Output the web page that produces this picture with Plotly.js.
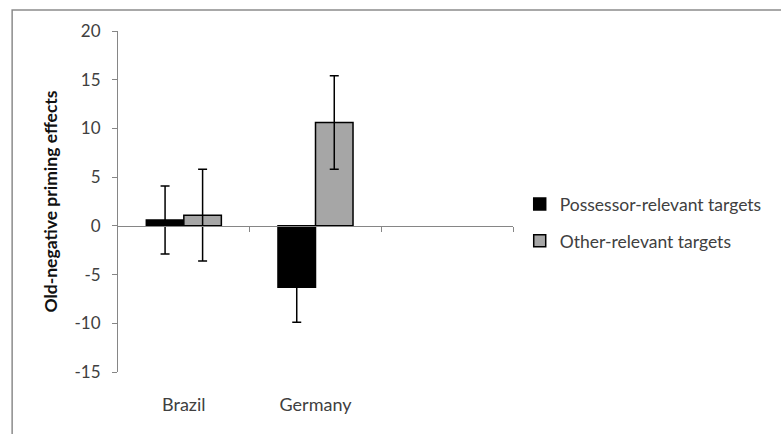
<!DOCTYPE html>
<html>
<head>
<meta charset="utf-8">
<script src="https://cdn.plot.ly/plotly-3.0.1.min.js"></script>
<style>
  html, body { margin: 0; padding: 0; background: #fff; }
  #chart { width: 781px; height: 434px; }
</style>
</head>
<body>
<div id="chart"></div>
<script>
// Country groups; the third slot is an empty category, as on the original axis
const categories = ['Brazil', 'Germany', ''];
const countries = ['Brazil', 'Germany'];

// Old-negative priming effects (means) and error bar half-lengths
const possessorValues = [0.6, -6.3];
const possessorErrors = [3.5, 3.6];
const otherValues = [1.1, 10.6];
const otherErrors = [4.7, 4.8];

// Value axis ticks, written with a plain hyphen for negatives
const yTicks = [-15, -10, -5, 0, 5, 10, 15, 20];
const yTickLabels = ['-15', '-10', '-5', '0', '5', '10', '15', '20'];

// Tick marks at the category boundaries along the zero line
const boundaryTicks = [0.5, 1.5, 2.5];

const axisGray = '#868686';
const textColor = '#404040';
const font = 'Lato, "Open Sans", sans-serif';
const barWidth = 0.285;

const traces = [
  {
    type: 'bar',
    name: 'Possessor-relevant targets',
    x: countries,
    y: possessorValues,
    xaxis: 'x',
    width: barWidth,
    offset: -barWidth,
    legendgroup: 'a',
    marker: { color: '#000000', line: { color: '#000000', width: 1.5 } },
    error_y: { type: 'data', array: possessorErrors, visible: true,
               color: '#000000', thickness: 1.5, width: 4.5 }
  },
  {
    type: 'bar',
    name: 'Other-relevant targets',
    x: countries,
    y: otherValues,
    xaxis: 'x2',
    width: barWidth,
    offset: 0,
    legendgroup: 'b',
    marker: { color: '#a6a6a6', line: { color: '#000000', width: 1.5 } },
    error_y: { type: 'data', array: otherErrors, visible: true,
               color: '#000000', thickness: 1.5, width: 4.5 }
  }
];

const layout = {
  width: 781,
  height: 434,
  margin: { l: 118, r: 268, t: 31, b: 62, pad: 0 },
  paper_bgcolor: '#ffffff',
  plot_bgcolor: '#ffffff',
  barmode: 'overlay',
  showlegend: true,
  legend: {
    x: 1.017, y: 0.545, xanchor: 'left', yanchor: 'top',
    font: { family: font, size: 17.5, color: textColor },
    bgcolor: 'rgba(0,0,0,0)',
    tracegroupgap: 11,
    traceorder: 'grouped',
    itemwidth: 30
  },
  // category labels along the bottom
  xaxis: {
    type: 'category',
    categoryarray: categories,
    categoryorder: 'array',
    range: [-0.5, 2.5],
    showline: false,
    showgrid: false,
    zeroline: false,
    ticks: '',
    ticklabelstandoff: 20,
    tickfont: { family: font, size: 18, color: textColor }
  },
  // horizontal axis line drawn through zero, with boundary ticks
  xaxis2: {
    type: 'category',
    categoryarray: categories,
    categoryorder: 'array',
    overlaying: 'x',
    anchor: 'free',
    position: 15 / 35,
    range: [-0.5, 2.5],
    showline: true,
    linecolor: axisGray,
    linewidth: 1,
    ticks: 'outside',
    tickmode: 'array',
    tickvals: boundaryTicks,
    ticklen: 5,
    tickcolor: axisGray,
    showticklabels: false,
    showgrid: false,
    zeroline: false
  },
  yaxis: {
    range: [-15, 20],
    tickmode: 'array',
    tickvals: yTicks,
    ticktext: yTickLabels,
    showline: true,
    linecolor: axisGray,
    linewidth: 1,
    ticks: 'outside',
    ticklen: 5,
    tickcolor: axisGray,
    showgrid: false,
    zeroline: false,
    ticklabelstandoff: 8,
    tickfont: { family: font, size: 17, color: textColor },
    title: {
      text: '<b>Old-negative priming effects</b>',
      font: { family: font, size: 17.5, color: '#111111' },
      standoff: 12
    }
  },
  shapes: [
    {
      type: 'rect', xref: 'paper', yref: 'paper',
      x0: -0.268, x1: 1.75, y0: -0.3, y1: 1.0616,
      line: { color: '#8c8c8c', width: 1.5 },
      fillcolor: 'rgba(0,0,0,0)',
      layer: 'below'
    }
  ]
};

Plotly.newPlot('chart', traces, layout, { displayModeBar: false, staticPlot: true });
</script>
</body>
</html>
